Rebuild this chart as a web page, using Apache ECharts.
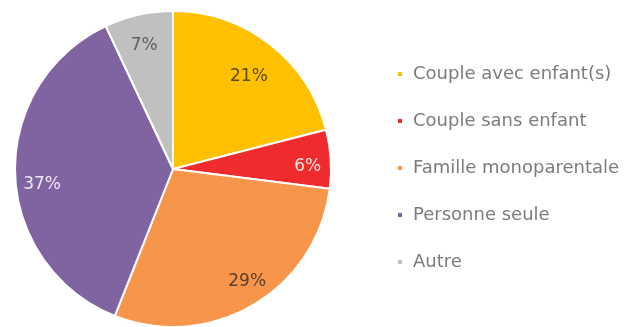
<!DOCTYPE html>
<html>
<head>
<meta charset="utf-8">
<script src="https://cdn.jsdelivr.net/npm/echarts@6/dist/echarts.min.js"></script>
<style>
  html, body { margin: 0; padding: 0; background: #fff; }
  #chart { width: 630px; height: 327px; }
</style>
</head>
<body>
<div id="chart"></div>
<script>
// Household types, share of households (%)
const categories = ['Couple avec enfant(s)', 'Couple sans enfant', 'Famille monoparentale', 'Personne seule', 'Autre'];
const values = [21, 6, 29, 37, 7];
const sliceColors = ['#FFC000', '#EF2B2D', '#F7964A', '#8064A2', '#C0C0C0'];
const labelColors = ['#5e4a12', '#fbe3e3', '#5a3e2c', '#efe8f6', '#5f5f5f'];

// Small nudges for the percentage labels inside the slices, in pixels
const labelNudges = [[-5, 12], [3, 6], [7, -1], [1, 11], [0, 5]];

const chart = echarts.init(document.getElementById('chart'));

const sliceData = categories.map((name, i) => ({
  name: name,
  value: values[i],
  itemStyle: { color: sliceColors[i] }
}));

// Transparent ring over the pie, used only to place the percentage labels near the rim
const labelData = categories.map((name, i) => ({
  name: name,
  value: values[i],
  label: { color: labelColors[i], offset: labelNudges[i] }
}));

chart.setOption({
  animation: false,
  legend: {
    orient: 'vertical',
    left: 396,
    top: 65,
    padding: 0,
    icon: 'rect',
    itemWidth: 6,
    itemHeight: 6,
    itemGap: 29,
    selectedMode: false,
    textStyle: {
      fontFamily: 'DejaVu Sans',
      fontSize: 18,
      color: '#7c7c7c',
      padding: [0, 0, 0, 5]
    },
    data: categories.map((name, i) => ({ name: name, itemStyle: { color: sliceColors[i] } }))
  },
  series: [
    {
      type: 'pie',
      center: [173, 169],
      radius: [0, 158],
      startAngle: 90,
      clockwise: true,
      silent: true,
      label: { show: false },
      labelLine: { show: false },
      itemStyle: { borderColor: '#ffffff', borderWidth: 2 },
      data: sliceData
    },
    {
      type: 'pie',
      center: [173, 169],
      radius: [100, 158],
      startAngle: 90,
      clockwise: true,
      silent: true,
      z: 3,
      itemStyle: { color: 'rgba(0,0,0,0)' },
      labelLine: { show: false },
      label: {
        show: true,
        position: 'inside',
        formatter: (p) => p.value + '%',
        fontFamily: 'DejaVu Sans',
        fontSize: 17
      },
      data: labelData
    }
  ]
});
</script>
</body>
</html>
